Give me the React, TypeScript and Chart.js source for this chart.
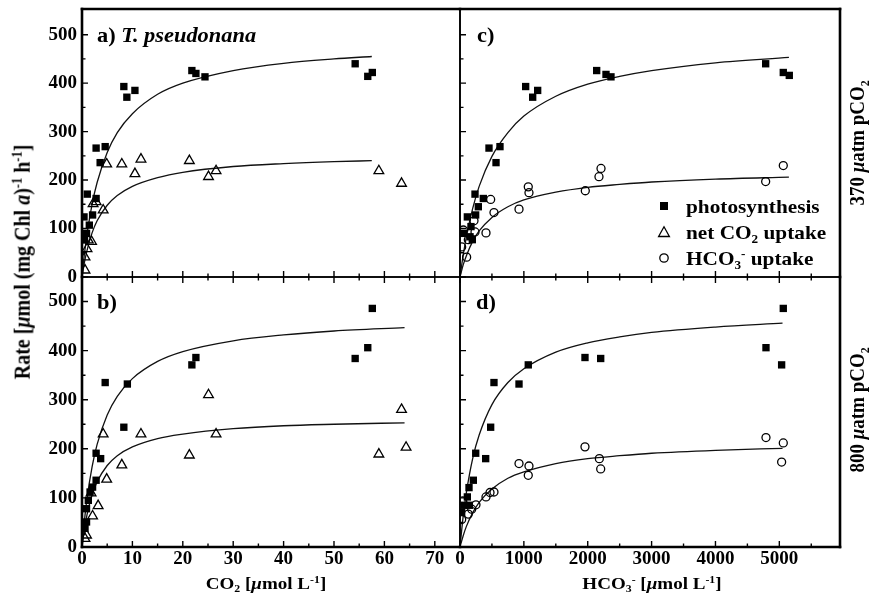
import React, { useEffect, useRef } from "react";
import { Chart, registerables } from "chart.js";
Chart.register(...registerables);

// ---------- tick labels ----------
const rateTicks = [0, 100, 200, 300, 400, 500];
const co2Ticks = [0, 10, 20, 30, 40, 50, 60, 70];
const hco3Ticks = [0, 1000, 2000, 3000, 4000, 5000];

// ---------- panel a (370 µatm, x = CO2) ----------
const aPhotoX = [54.2, 56.7, 57.6, 21.8, 22.6, 24.4, 8.3, 8.9, 10.5, 2.8, 4.6, 3.6, 1.05, 2.8, 2.1, 0.4, 1.45, 0.9, 0.5];
const aPhotoY = [440, 414, 422, 426, 420, 413, 393, 371, 385, 266, 269, 236, 171, 162, 128, 124, 107, 90, 77];
const aNetX = [4.9, 7.9, 11.7, 10.5, 21.3, 25.1, 26.6, 58.9, 63.4, 4.2, 2.2, 2.8, 1.25, 1.9, 0.6, 0.6, 1.0];
const aNetY = [233, 233, 243, 213, 240, 207, 219, 219, 193, 138, 151, 155, 76, 73, 41, 14, 58];
const aFitX = [0, 0.5, 1, 2, 3, 5, 7, 10, 15, 20, 30, 40, 50, 57.5];
const aFitPhotoY = [0, 49, 88, 150, 195, 257, 298, 337, 377, 400, 426, 441, 450, 455];
const aFitNetY = [0, 31, 55, 91, 116, 148, 168, 187, 205, 216, 228, 234, 238, 240];

// ---------- panel b (800 µatm, x = CO2) ----------
const bPhotoX = [57.6, 56.7, 54.2, 22.6, 21.8, 4.6, 9.0, 8.3, 2.8, 3.7, 2.8, 2.1, 1.6, 1.25, 0.9, 0.9, 0.6];
const bPhotoY = [486, 406, 384, 386, 371, 335, 332, 244, 191, 180, 136, 122, 112, 95, 78, 51, 38];
const bNetX = [25.1, 63.4, 64.3, 58.9, 21.3, 26.6, 11.7, 4.2, 7.9, 4.9, 3.2, 2.1, 1.8, 0.9, 0.6];
const bNetY = [310, 280, 203, 189, 187, 230, 230, 230, 167, 138, 84, 63, 110, 24, 17];
const bFitX = [0, 0.5, 1, 2, 3, 5, 7, 10, 15, 20, 30, 40, 50, 64];
const bFitPhotoY = [0, 55, 99, 163, 209, 269, 307, 343, 378, 398, 420, 432, 440, 447];
const bFitNetY = [0, 38, 66, 106, 133, 166, 186, 204, 221, 230, 241, 247, 250, 253];

// ---------- panel c (370 µatm, x = HCO3-) ----------
const cPhotoX = [4786, 5062, 5156, 2140, 2286, 2364, 1028, 1138, 1216, 454, 626, 564, 235, 365, 287, 245, 115, 172, 157, 52, 193];
const cPhotoY = [440, 422, 416, 426, 418, 413, 393, 371, 385, 266, 269, 236, 171, 162, 145, 128, 124, 104, 83, 90, 77];
const cBicX = [5062, 4786, 2208, 2176, 1962, 1069, 1080, 924, 480, 532, 407, 219, 235, 130, 52, 26, 104];
const cBicY = [230, 197, 224, 207, 178, 186, 174, 140, 160, 133, 91, 116, 93, 77, 97, 62, 41];
const cFitX = [0, 50, 100, 200, 300, 500, 750, 1000, 1500, 2000, 2500, 3000, 4000, 5150];
const cFitPhotoY = [0, 45, 83, 142, 187, 249, 298, 332, 373, 398, 414, 426, 442, 453];
const cFitBicY = [0, 25, 44, 74, 95, 123, 145, 159, 175, 185, 191, 196, 202, 206];

// ---------- panel d (800 µatm, x = HCO3-) ----------
const dPhotoX = [5062, 4791, 5036, 1957, 2203, 1069, 532, 924, 480, 246, 402, 209, 141, 115, 63, 146, 26];
const dPhotoY = [486, 406, 371, 386, 384, 371, 335, 332, 244, 191, 180, 136, 121, 102, 85, 85, 71];
const dBicX = [4791, 5062, 5036, 1957, 2182, 2203, 924, 1080, 1069, 532, 470, 407, 250, 183, 130, 42, 26];
const dBicY = [223, 212, 173, 204, 180, 159, 170, 165, 146, 112, 111, 102, 86, 77, 67, 94, 56];
const dFitX = [0, 50, 100, 200, 300, 500, 750, 1000, 1500, 2000, 2500, 3000, 4000, 5050];
const dFitPhotoY = [0, 63, 111, 181, 228, 290, 335, 363, 397, 416, 428, 437, 448, 456];
const dFitBicY = [0, 23, 42, 70, 91, 118, 140, 153, 170, 180, 186, 191, 197, 201];

const FONT = '"Liberation Serif", "Times New Roman", Times, serif';
const W = 875;
const H = 602;

const zip = (xs: number[], ys: number[]) => xs.map((x, i) => ({ x, y: ys[i] }));

const squareDs = (xs: number[], ys: number[]) => ({
  data: zip(xs, ys),
  pointStyle: "rect",
  pointRadius: 5.2,
  backgroundColor: "#000",
  borderColor: "#000",
  borderWidth: 0,
  showLine: false,
  order: 1,
});
const triDs = (xs: number[], ys: number[]) => ({
  data: zip(xs, ys),
  pointStyle: "triangle",
  pointRadius: 5.6,
  backgroundColor: "rgba(255,255,255,0)",
  borderColor: "#000",
  borderWidth: 1.3,
  showLine: false,
  order: 1,
});
const circDs = (xs: number[], ys: number[]) => ({
  data: zip(xs, ys),
  pointStyle: "circle",
  pointRadius: 4,
  backgroundColor: "rgba(255,255,255,0)",
  borderColor: "#000",
  borderWidth: 1.3,
  showLine: false,
  order: 1,
});
const fitDs = (xs: number[], ys: number[]) => ({
  data: zip(xs, ys),
  showLine: true,
  pointRadius: 0,
  borderColor: "#111",
  borderWidth: 1.3,
  cubicInterpolationMode: "monotone",
  fill: false,
  order: 2,
});

const panels = [
  {
    box: { l: 82, t: 9, r: 460, b: 277 },
    xMax: 75, yMax: 553, xTicks: co2Ticks, xMajor: 10, xMinor: 5, xTickMax: 70,
    showX: false, showY: true, topTicks: false,
    outer: { left: true, top: true, right: false, bottom: false },
    datasets: [fitDs(aFitX, aFitPhotoY), fitDs(aFitX, aFitNetY), squareDs(aPhotoX, aPhotoY), triDs(aNetX, aNetY)],
  },
  {
    box: { l: 82, t: 277, r: 460, b: 547 },
    xMax: 75, yMax: 550, xTicks: co2Ticks, xMajor: 10, xMinor: 5, xTickMax: 70,
    showX: true, showY: true, topTicks: true,
    outer: { left: true, top: false, right: false, bottom: true },
    datasets: [fitDs(bFitX, bFitPhotoY), fitDs(bFitX, bFitNetY), squareDs(bPhotoX, bPhotoY), triDs(bNetX, bNetY)],
  },
  {
    box: { l: 460, t: 9, r: 840, b: 277 },
    xMax: 5950, yMax: 553, xTicks: hco3Ticks, xMajor: 1000, xMinor: 500, xTickMax: 5500,
    showX: false, showY: false, topTicks: false,
    outer: { left: false, top: true, right: true, bottom: false },
    datasets: [fitDs(cFitX, cFitPhotoY), fitDs(cFitX, cFitBicY), squareDs(cPhotoX, cPhotoY), circDs(cBicX, cBicY)],
  },
  {
    box: { l: 460, t: 277, r: 840, b: 547 },
    xMax: 5950, yMax: 550, xTicks: hco3Ticks, xMajor: 1000, xMinor: 500, xTickMax: 5500,
    showX: true, showY: false, topTicks: true,
    outer: { left: false, top: false, right: true, bottom: true },
    datasets: [fitDs(dFitX, dFitPhotoY), fitDs(dFitX, dFitBicY), squareDs(dPhotoX, dPhotoY), circDs(dBicX, dBicY)],
  },
];

const framePlugin = {
  id: "frame",
  afterDraw(chart: any, _args: any, opts: any) {
    const { ctx, chartArea: ca } = chart;
    const xs = chart.scales.x;
    const ys = chart.scales.y;
    ctx.save();
    ctx.strokeStyle = "#000";
    ctx.lineWidth = 1.4;
    ctx.beginPath();
    for (let v = 0; v <= opts.yTickMax + 1e-6; v += opts.yMinor) {
      const y = ys.getPixelForValue(v);
      const len = Math.abs(v % opts.yMajor) < 1e-6 ? 6 : 3.5;
      ctx.moveTo(ca.left, y);
      ctx.lineTo(ca.left + len, y);
    }
    for (let v = 0; v <= opts.xTickMax + 1e-6; v += opts.xMinor) {
      const x = xs.getPixelForValue(v);
      const len = Math.abs(v % opts.xMajor) < 1e-6 ? 6 : 3.5;
      ctx.moveTo(x, ca.bottom);
      ctx.lineTo(x, ca.bottom - len);
      if (opts.topTicks) {
        ctx.moveTo(x, ca.top);
        ctx.lineTo(x, ca.top + len);
      }
    }
    ctx.stroke();
    ctx.lineCap = "square";
    const o = opts.outer;
    const edge = (x1: number, y1: number, x2: number, y2: number, outer: boolean) => {
      ctx.lineWidth = outer ? 2.6 : 1.6;
      ctx.beginPath();
      ctx.moveTo(x1, y1);
      ctx.lineTo(x2, y2);
      ctx.stroke();
    };
    edge(ca.left, ca.top, ca.right, ca.top, o.top);
    edge(ca.left, ca.bottom, ca.right, ca.bottom, o.bottom);
    edge(ca.left, ca.top, ca.left, ca.bottom, o.left);
    edge(ca.right, ca.top, ca.right, ca.bottom, o.right);
    ctx.restore();
  },
};

const tickFont = { family: FONT, size: 19, weight: "bold" as const, lineHeight: 1.2 };

function Sup({ children }: { children: React.ReactNode }) {
  return <span style={{ fontSize: "0.62em", position: "relative", top: "-0.6em" }}>{children}</span>;
}
function Sub({ children }: { children: React.ReactNode }) {
  return <span style={{ fontSize: "0.62em", position: "relative", top: "0.3em" }}>{children}</span>;
}

function Txt(props: {
  x: number; y: number; size?: number; rotate?: number; anchor?: "center" | "left";
  stretch?: number; children: React.ReactNode;
}) {
  const { x, y, size = 18, rotate, anchor = "center", stretch = 1.12, children } = props;
  const base = anchor === "center" ? "translate(-50%,-50%)" : "translate(0,-50%)";
  const tr = rotate ? `${base} rotate(${rotate}deg) scaleY(${stretch})` : `${base} scaleX(${stretch})`;
  return (
    <div
      style={{
        position: "absolute", left: x, top: y, transform: tr,
        transformOrigin: anchor === "center" ? "center center" : "left center",
        fontFamily: FONT, fontWeight: "bold", fontSize: size, whiteSpace: "nowrap",
        lineHeight: 1, color: "#000",
      }}
    >
      {children}
    </div>
  );
}

function Marker({ kind }: { kind: "sq" | "tri" | "circ" }) {
  return (
    <svg width={14} height={14} style={{ position: "absolute", left: -7, top: -7 }}>
      {kind === "sq" && <rect x={3} y={3} width={8} height={8} fill="#000" />}
      {kind === "tri" && <polygon points="7,1.8 12.4,11.5 1.6,11.5" fill="none" stroke="#000" strokeWidth={1.3} />}
      {kind === "circ" && <circle cx={7} cy={7} r={4.2} fill="none" stroke="#000" strokeWidth={1.3} />}
    </svg>
  );
}

const zeroPad = (s: any) => {
  s.paddingTop = 0;
  s.paddingBottom = 0;
  s.paddingLeft = 0;
  s.paddingRight = 0;
};

const plainLabel = (v: any) => String(v);

export default function App() {
  const refs = [useRef<HTMLCanvasElement>(null), useRef<HTMLCanvasElement>(null), useRef<HTMLCanvasElement>(null), useRef<HTMLCanvasElement>(null)];

  useEffect(() => {
    const charts = panels.map((p, i) => {
      const cv = refs[i].current!;
      return new Chart(cv, {
        type: "scatter",
        data: { datasets: p.datasets as any },
        options: {
          responsive: false,
          animation: false,
          devicePixelRatio: 1,
          layout: { padding: { left: 0, top: p.box.t, right: W - p.box.r, bottom: 0 } },
          plugins: {
            legend: { display: false },
            tooltip: { enabled: false },
            frame: {
              outer: p.outer, topTicks: p.topTicks,
              xMajor: p.xMajor, xMinor: p.xMinor, xTickMax: p.xTickMax,
              yMajor: 100, yMinor: 50, yTickMax: 500,
            },
          } as any,
          scales: {
            x: {
              type: "linear", position: "bottom", min: 0, max: p.xMax,
              afterFit: (s: any) => { s.height = H - p.box.b; zeroPad(s); },
              afterBuildTicks: (s: any) => { s.ticks = p.xTicks.map((v) => ({ value: v })); },
              grid: { display: false, drawTicks: false },
              border: { display: false },
              ticks: { display: p.showX, font: tickFont, color: "#000", padding: 1, maxRotation: 0, minRotation: 0, autoSkip: false, callback: plainLabel },
            },
            y: {
              type: "linear", position: "left", min: 0, max: p.yMax,
              afterFit: (s: any) => { s.width = p.box.l; zeroPad(s); },
              afterBuildTicks: (s: any) => { s.ticks = rateTicks.map((v) => ({ value: v })); },
              grid: { display: false, drawTicks: false },
              border: { display: false },
              ticks: { display: p.showY, font: tickFont, color: "#000", padding: 5, autoSkip: false, callback: plainLabel },
            },
          },
        },
        plugins: [framePlugin],
      });
    });
    return () => charts.forEach((c) => c.destroy());
  }, []);

  return (
    <div style={{ position: "fixed", left: 0, top: 0, width: W, height: H, background: "#fff", overflow: "hidden" }}>
      {refs.map((r, i) => (
        <canvas key={i} ref={r} width={W} height={H} style={{ position: "absolute", left: 0, top: 0, width: W, height: H }} />
      ))}

      <Txt x={97} y={35} size={20} anchor="left">a) <i>T. pseudonana</i></Txt>
      <Txt x={97} y={302} size={20} anchor="left">b)</Txt>
      <Txt x={477} y={35} size={20} anchor="left">c)</Txt>
      <Txt x={476} y={302} size={20} anchor="left">d)</Txt>

      <Txt x={22} y={262} size={20} rotate={-90}>
        Rate [<i>μ</i>mol (mg Chl <i>a</i>)<Sup>-1</Sup> h<Sup>-1</Sup>]
      </Txt>
      <Txt x={266} y={583} size={17}>
        CO<Sub>2</Sub> [<i>μ</i>mol L<Sup>-1</Sup>]
      </Txt>
      <Txt x={652} y={583} size={17}>
        HCO<Sub>3</Sub><Sup>-</Sup> [<i>μ</i>mol L<Sup>-1</Sup>]
      </Txt>
      <Txt x={857} y={143} size={19} rotate={-90}>
        370 <i>μ</i>atm pCO<Sub>2</Sub>
      </Txt>
      <Txt x={857} y={410} size={19} rotate={-90}>
        800 <i>μ</i>atm pCO<Sub>2</Sub>
      </Txt>

      <div style={{ position: "absolute", left: 664, top: 206 }}><Marker kind="sq" /></div>
      <div style={{ position: "absolute", left: 664, top: 232 }}><Marker kind="tri" /></div>
      <div style={{ position: "absolute", left: 664, top: 258 }}><Marker kind="circ" /></div>
      <Txt x={686} y={206} size={19} anchor="left">photosynthesis</Txt>
      <Txt x={686} y={232} size={19} anchor="left">net CO<Sub>2</Sub> uptake</Txt>
      <Txt x={686} y={258} size={19} anchor="left">HCO<Sub>3</Sub><Sup>-</Sup> uptake</Txt>
    </div>
  );
}
